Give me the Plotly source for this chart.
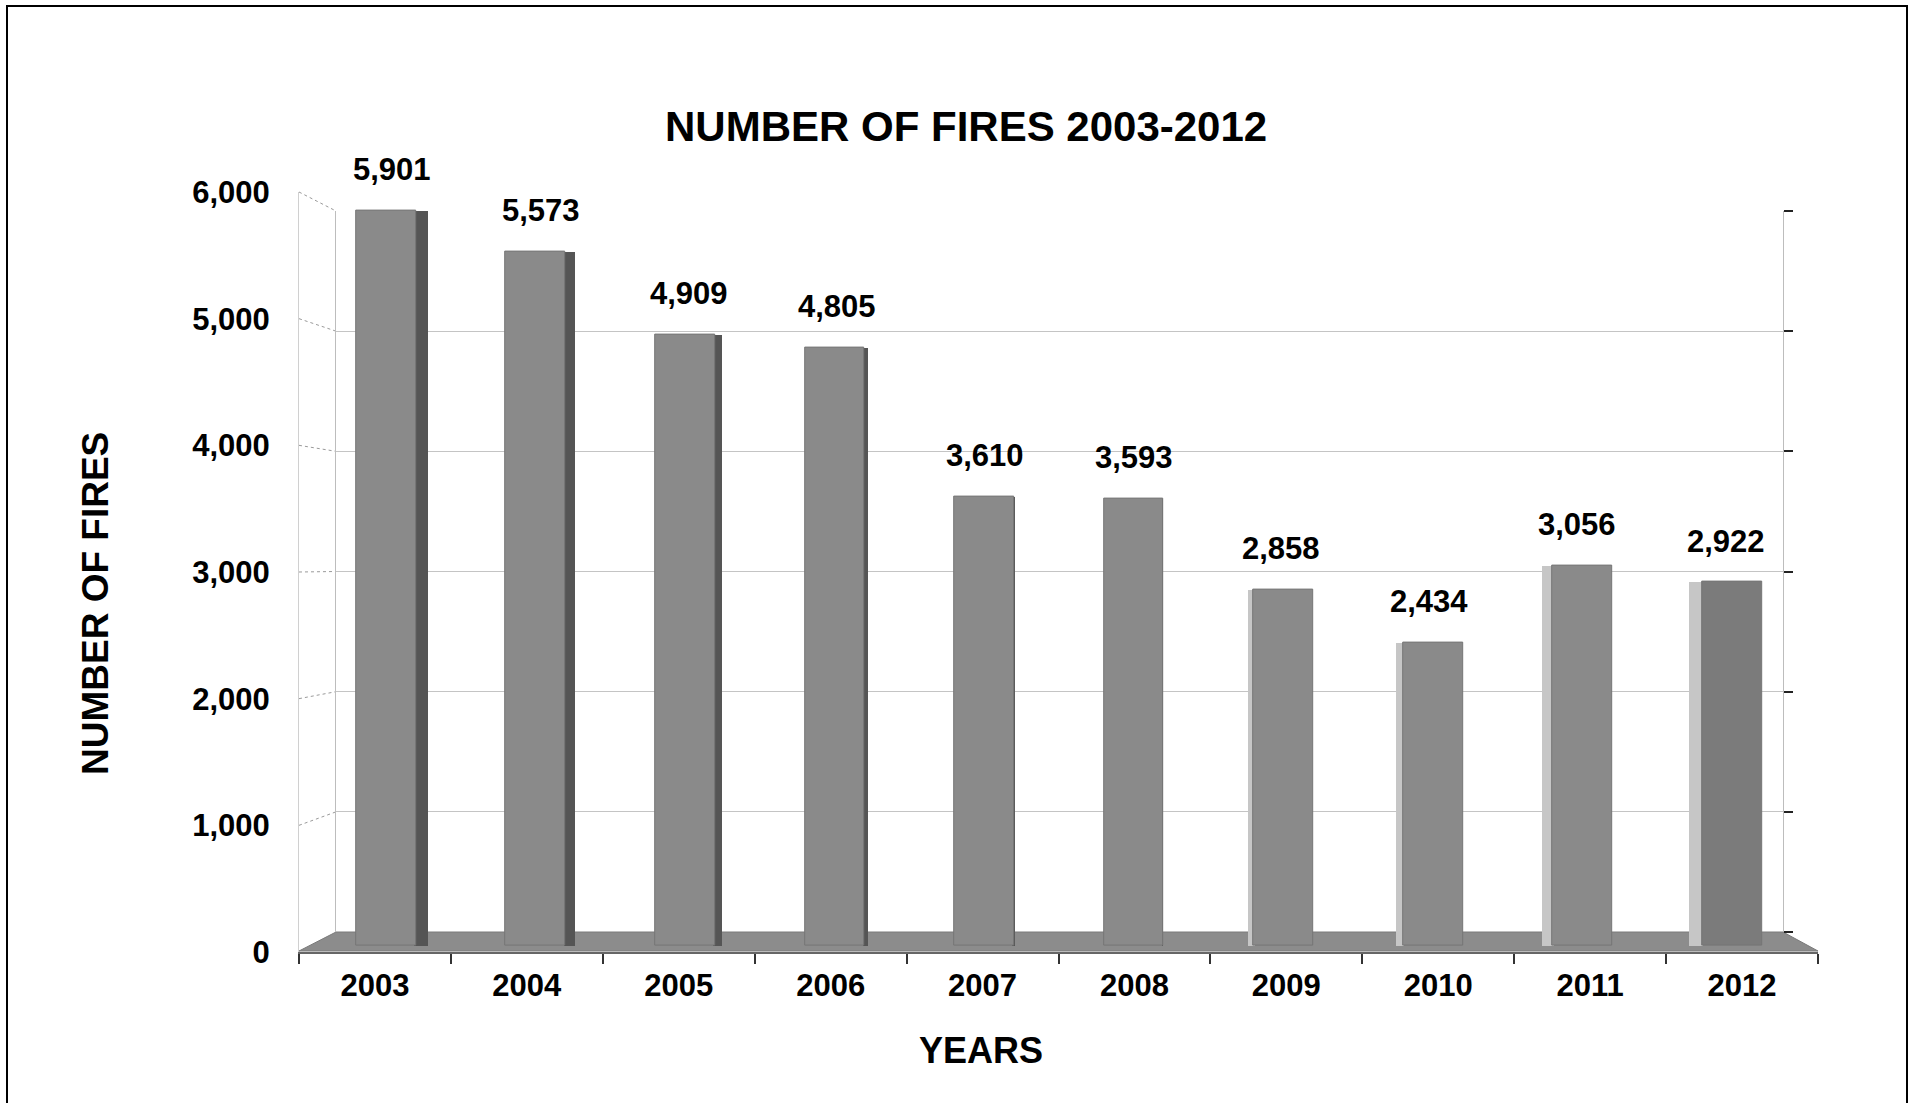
import plotly.graph_objects as go

# ---------------- data ----------------
YEARS = ["2003", "2004", "2005", "2006", "2007", "2008", "2009", "2010", "2011", "2012"]
FIRES = [5901, 5573, 4909, 4805, 3610, 3593, 2858, 2434, 3056, 2922]
Y_TICKS = [0, 1000, 2000, 3000, 4000, 5000, 6000]
Y_TICK_LABELS = ["0", "1,000", "2,000", "3,000", "4,000", "5,000", "6,000"]
TITLE = "NUMBER OF FIRES 2003-2012"
X_TITLE = "YEARS"
Y_TITLE = "NUMBER OF FIRES"

# ---------------- styles ----------------
W, H = 1913, 1103
FONT = "Liberation Sans, Arial, sans-serif"
FRONT_COLORS = ["#8a8a8a"] * 9 + ["#7b7b7b"]
# pseudo-3D side face width in px (+ = dark right face, - = light left face)
SIDE_PX = [12, 10, 7, 4, 1.5, 0, -5, -7, -10, -13]
BAR_SPACING_PX = 149.6
BAR_W = 0.4


def fx(px):
    return px / W


def fy(py):
    return 1 - py / H


# layout geometry (pixels)
BACK_X = (336, 1783)
BACK_Y = (932, 211)      # value 0 -> 932, 6000 -> 211
FRONT_X = (299, 1818)
FRONT_Y = (952, 192)     # value 0 -> 952, 6000 -> 192
BAR_X = (386 - BAR_SPACING_PX / 2, 1732 + BAR_SPACING_PX / 2)
BAR_Y = (946, 198.6)
FLOOR_FRONT_Y = 951

fig = go.Figure()

# back wall (empty trace just to instantiate the subplot)
fig.add_trace(go.Scatter(x=[0], y=[0], mode="markers", marker=dict(opacity=0),
                         hoverinfo="skip", showlegend=False, xaxis="x", yaxis="y"))

# front axis subplot (categories)
fig.add_trace(go.Scatter(x=YEARS, y=FIRES, mode="markers", marker=dict(opacity=0),
                         hoverinfo="skip", showlegend=False, xaxis="x2", yaxis="y2"))

# side faces
side_colors, side_w, side_off = [], [], []
for s in SIDE_PX:
    u = abs(s) / BAR_SPACING_PX
    if s >= 0:
        side_colors.append("#555555")
        side_off.append(BAR_W / 2 - 0.01)
        side_w.append(u + 0.01 if s > 0 else 0.0001)
    else:
        side_colors.append("#c6c6c6")
        side_off.append(-BAR_W / 2 - u)
        side_w.append(u + 0.01)

fig.add_trace(go.Bar(x=YEARS, y=FIRES, width=side_w, offset=side_off,
                     marker=dict(color=side_colors, line=dict(width=0)),
                     hoverinfo="skip", showlegend=False, xaxis="x3", yaxis="y3"))
fig.add_trace(go.Bar(x=YEARS, y=FIRES, width=BAR_W,
                     marker=dict(color=FRONT_COLORS, line=dict(width=1, color="#767676")),
                     showlegend=False, xaxis="x3", yaxis="y3"))

# value labels (category index on the bar axis)
for i, (v, s) in enumerate(zip(FIRES, SIDE_PX)):
    fig.add_annotation(x=i, y=v, xref="x3", yref="y3", text=f"{v:,}", showarrow=False,
                       yshift=41, xshift=s / 2, xanchor="center", yanchor="middle",
                       font=dict(family=FONT, size=31, color="#000", weight="bold"))

shapes = []
# floor
floor_path = (f"M {fx(FRONT_X[0])},{fy(FLOOR_FRONT_Y)} L {fx(BACK_X[0])},{fy(BACK_Y[0])} "
              f"L {fx(BACK_X[1])},{fy(BACK_Y[0])} L {fx(FRONT_X[1])},{fy(FLOOR_FRONT_Y)} Z")
shapes.append(dict(type="path", path=floor_path, xref="paper", yref="paper",
                   fillcolor="#8c8c8c", line=dict(color="#7a7a7a", width=1), layer="below"))
# left side-wall dotted diagonals
for t in Y_TICKS[1:]:
    yf = FRONT_Y[0] + (FRONT_Y[1] - FRONT_Y[0]) * t / 6000
    yb = BACK_Y[0] + (BACK_Y[1] - BACK_Y[0]) * t / 6000
    shapes.append(dict(type="line", xref="paper", yref="paper",
                       x0=fx(FRONT_X[0]), y0=fy(yf), x1=fx(BACK_X[0]), y1=fy(yb),
                       line=dict(color="#9a9a9a", width=1, dash="dot"), layer="below"))
# outer frame
shapes.append(dict(type="rect", xref="paper", yref="paper",
                   x0=fx(7), y0=fy(1130), x1=fx(1907), y1=fy(6),
                   line=dict(color="#000", width=2), fillcolor="rgba(0,0,0,0)"))

annotations_extra = [
    dict(text=TITLE, x=fx(966), y=fy(126), xref="paper", yref="paper", showarrow=False,
         xanchor="center", yanchor="middle",
         font=dict(family=FONT, size=42, color="#000", weight="bold")),
    dict(text=Y_TITLE, x=fx(95), y=fy(604), xref="paper", yref="paper", showarrow=False,
         textangle=-90, xanchor="center", yanchor="middle",
         font=dict(family=FONT, size=37, color="#000", weight="bold")),
    dict(text=X_TITLE, x=fx(981), y=fy(1050), xref="paper", yref="paper", showarrow=False,
         xanchor="center", yanchor="middle",
         font=dict(family=FONT, size=36, color="#000", weight="bold")),
]
for a in annotations_extra:
    fig.add_annotation(**a)

tickfont = dict(family=FONT, size=31, color="#000", weight="bold")
hidden_axis = dict(showticklabels=False, ticks="", showline=False, showgrid=False,
                   zeroline=False, automargin=False)

fig.update_layout(
    template="none",
    width=W, height=H,
    margin=dict(l=0, r=0, t=0, b=0, pad=0, autoexpand=False),
    paper_bgcolor="white", plot_bgcolor="rgba(0,0,0,0)",
    barmode="overlay", bargap=0,
    shapes=shapes,
    # back wall
    xaxis=dict(domain=[fx(BACK_X[0]), fx(BACK_X[1])], range=[0, 1], visible=False,
               anchor="y", automargin=False),
    yaxis=dict(domain=[fy(BACK_Y[0]), fy(BACK_Y[1])], range=[0, 6000],
               tickvals=Y_TICKS, showticklabels=False, side="right", anchor="x",
               ticks="outside", ticklen=9, tickcolor="#222", tickwidth=1.5,
               showgrid=True, gridcolor="#c4c4c4", gridwidth=1, zeroline=False,
               showline=True, mirror=True, linecolor="#bdbdbd", linewidth=1,
               automargin=False),
    # front axes
    xaxis2=dict(domain=[fx(FRONT_X[0]), fx(FRONT_X[1])], type="category",
                categoryorder="array", categoryarray=YEARS, range=[-0.5, 9.5],
                anchor="y2", ticks="outside", tickson="boundaries", ticklen=10,
                tickcolor="#333", tickwidth=1.5, showgrid=False, zeroline=False,
                showline=True, linecolor="#666", linewidth=1.5, tickfont=tickfont,
                ticklabelstandoff=5, automargin=False),
    yaxis2=dict(domain=[fy(FRONT_Y[0]), fy(FRONT_Y[1])], range=[0, 6000],
                tickvals=Y_TICKS, ticktext=Y_TICK_LABELS, anchor="x2", ticks="",
                ticklabelstandoff=22, showgrid=False, zeroline=False,
                showline=True, linecolor="#d0d0d0", linewidth=1, tickfont=tickfont,
                automargin=False),
    # bars
    xaxis3=dict(domain=[fx(BAR_X[0]), fx(BAR_X[1])], type="category",
                categoryorder="array", categoryarray=YEARS, range=[-0.5, 9.5],
                anchor="y3", **hidden_axis),
    yaxis3=dict(domain=[fy(BAR_Y[0]), fy(BAR_Y[1])], range=[0, 6000],
                anchor="x3", **hidden_axis),
)

fig.write_html("out.html", config={"displayModeBar": False},
               post_script="document.body.style.margin='0';")
